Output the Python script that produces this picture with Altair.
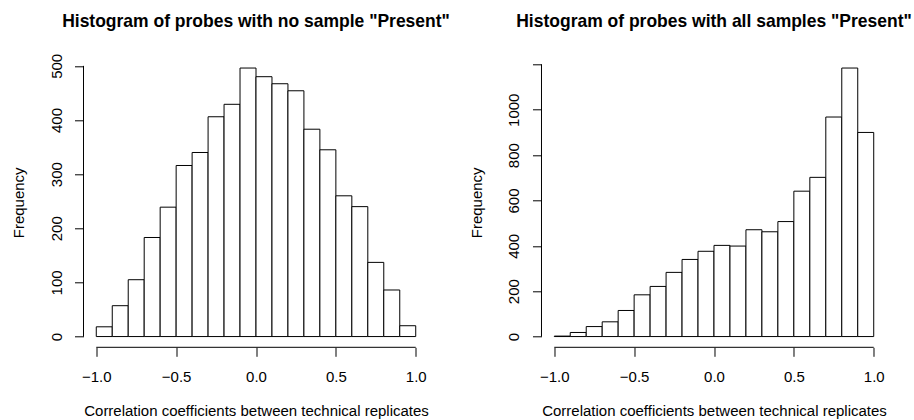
import altair as alt
import pandas as pd

# Bin edges of the histograms (width 0.1 from -1 to 1)
bin_starts = [-1.0, -0.9, -0.8, -0.7, -0.6, -0.5, -0.4, -0.3, -0.2, -0.1,
              0.0, 0.1, 0.2, 0.3, 0.4, 0.5, 0.6, 0.7, 0.8, 0.9]
bin_ends = [-0.9, -0.8, -0.7, -0.6, -0.5, -0.4, -0.3, -0.2, -0.1, 0.0,
            0.1, 0.2, 0.3, 0.4, 0.5, 0.6, 0.7, 0.8, 0.9, 1.0]

# Frequencies
counts_none = [18, 57, 105, 183, 239, 316, 340, 406, 429, 496,
               480, 467, 454, 383, 345, 260, 240, 137, 86, 20]
counts_all = [2, 18, 44, 65, 115, 184, 221, 283, 340, 376,
              402, 399, 471, 462, 507, 641, 702, 968, 1184, 900]

titles = ['Histogram of probes with no sample "Present"',
          'Histogram of probes with all samples "Present"']
xlabel = "Correlation coefficients between technical replicates"
ylabel = "Frequency"
x_ticks = [-1.0, -0.5, 0.0, 0.5, 1.0]
y_ticks_none = [0, 100, 200, 300, 400, 500]
y_ticks_all = [0, 200, 400, 600, 800, 1000, 1200]
y_hidden_label = 1200

FONT = "Liberation Sans"
W, H = 345, 290


def panel(counts, title, yticks, title_offset):
    ymax = max(counts)
    ypad = 0.04 * ymax
    xs = alt.Scale(domain=[-1.08, 1.08], nice=False, zero=False)
    ys = alt.Scale(domain=[-ypad, ymax + ypad], nice=False, zero=False)
    xaxis = alt.Axis(values=x_ticks, format=".1f", domain=False, grid=False,
                     tickSize=9, tickColor="black", tickWidth=1,
                     labelFont=FONT, labelFontSize=15, labelColor="black",
                     labelPadding=13, labelBaseline="top",
                     title=xlabel, titleFont=FONT, titleFontSize=15,
                     titleFontWeight="normal", titleColor="black",
                     titlePadding=19.5)
    yaxis = alt.Axis(values=yticks, format="d", domain=False, grid=False,
                     tickSize=9, tickColor="black", tickWidth=1,
                     labelFont=FONT, labelFontSize=15, labelColor="black",
                     labelAngle=270, labelAlign="center", labelBaseline="bottom",
                     labelPadding=10.5,
                     labelExpr=f"datum.value == {y_hidden_label} ? '' : datum.label",
                     title=ylabel, titleFont=FONT, titleFontSize=15,
                     titleFontWeight="normal", titleColor="black",
                     titlePadding=22.3)
    df = pd.DataFrame({"start": bin_starts, "end": bin_ends,
                       "count": counts, "base": [0] * len(counts)})
    bars = alt.Chart(df).mark_rect(fill="white", stroke="black", strokeWidth=1).encode(
        x=alt.X("start:Q", scale=xs, axis=xaxis),
        x2="end:Q",
        y=alt.Y("count:Q", scale=ys, axis=yaxis),
        y2="base:Q",
    )
    # R-style axis lines spanning only first to last tick
    ydf = pd.DataFrame({"x": [-1.08], "y": [yticks[0]], "y2": [yticks[-1]]})
    yline = alt.Chart(ydf).mark_rule(color="black", strokeWidth=1).encode(
        x=alt.X("x:Q", scale=xs, axis=xaxis),
        y=alt.Y("y:Q", scale=ys, axis=yaxis),
        y2="y2:Q",
    )
    xdf = pd.DataFrame({"x": [x_ticks[0]], "x2": [x_ticks[-1]], "y": [-ypad]})
    xline = alt.Chart(xdf).mark_rule(color="black", strokeWidth=1).encode(
        x=alt.X("x:Q", scale=xs, axis=xaxis),
        x2="x2:Q",
        y=alt.Y("y:Q", scale=ys, axis=yaxis),
    )
    return alt.layer(bars, yline, xline).properties(
        width=W, height=H,
        title=alt.TitleParams(title, font=FONT, fontSize=17.5, fontWeight="bold",
                              color="black", anchor="middle", frame="group",
                              offset=title_offset),
    )


chart = alt.hconcat(
    panel(counts_none, titles[0], y_ticks_none, 23.2),
    panel(counts_all, titles[1], y_ticks_all, 27.1),
    spacing=113,
    bounds="flush",
).properties(
    padding={"left": 11.5, "top": 12.3, "right": 0, "bottom": 0},
    background="white",
).configure_view(stroke=None)

chart.save("out.html", embed_options={"renderer": "svg", "actions": False})
